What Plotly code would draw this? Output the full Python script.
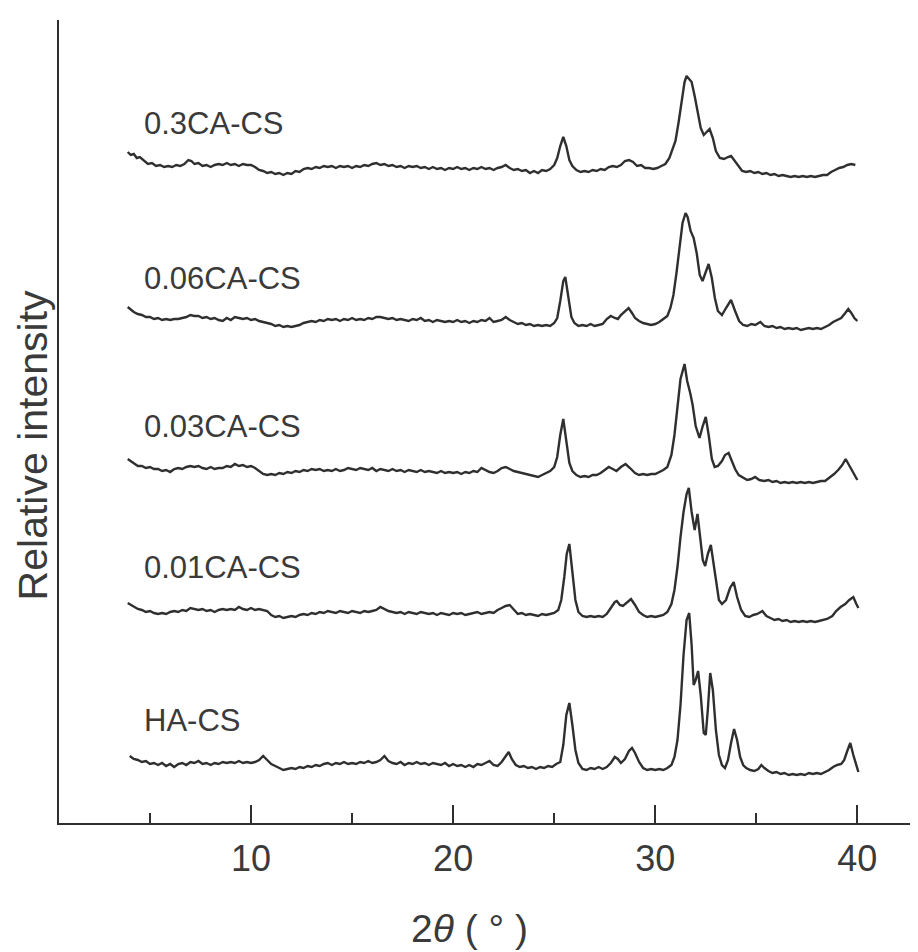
import plotly.graph_objects as go

# ---------------- data (2θ in degrees, intensity relative to each pattern's baseline) -------------
series_names = ["0.3CA-CS", "0.06CA-CS", "0.03CA-CS", "0.01CA-CS", "HA-CS"]
offsets = [655, 500, 352, 211, 58]  # vertical stacking offsets (relative intensity units)

pts_03 = [
    (3.9, 16), (4.05, 13), (4.2, 14), (4.35, 10), (4.5, 11), (4.7, 7), (4.9, 4), (5.1, 5), (5.3, 2), (5.5, 3),
    (5.7, 1), (5.9, 2), (6.1, 1), (6.3, 3), (6.5, 2), (6.7, 4), (6.9, 8), (7.05, 7), (7.2, 4), (7.4, 5),
    (7.6, 2), (7.8, 3), (8.0, 1), (8.2, 3), (8.4, 4), (8.6, 3), (8.8, 5), (9.0, 3), (9.2, 4), (9.4, 2),
    (9.6, 4), (9.8, 3), (10.0, 3), (10.2, 1), (10.4, -2), (10.6, -3), (10.8, -5), (11.0, -4), (11.2, -6), (11.4, -5),
    (11.6, -7), (11.8, -5), (12.0, -6), (12.2, -3), (12.4, -4), (12.6, -1), (12.8, 0), (13.0, -1), (13.2, 1), (13.4, 0),
    (13.6, 2), (13.8, 1), (14.0, 2), (14.2, 0), (14.4, 2), (14.6, 1), (14.8, 2), (15.0, 0), (15.2, 2), (15.4, 1),
    (15.6, 3), (15.8, 2), (16.0, 4), (16.2, 5), (16.4, 3), (16.6, 4), (16.8, 2), (17.0, 3), (17.2, 1), (17.4, 2),
    (17.6, 0), (17.8, 2), (18.0, 1), (18.2, 2), (18.4, 0), (18.6, 1), (18.8, -1), (19.0, 1), (19.2, -1), (19.4, 0),
    (19.6, -2), (19.8, 0), (20.0, -1), (20.2, 1), (20.4, -1), (20.6, 0), (20.8, -2), (21.0, 0), (21.2, -1), (21.4, 1),
    (21.6, -1), (21.8, 0), (22.0, -2), (22.2, 0), (22.4, 1), (22.6, 3), (22.8, 0), (23.0, -2), (23.2, -1), (23.4, -3),
    (23.6, -2), (23.8, -5), (24.0, -3), (24.2, -5), (24.4, -2), (24.6, -3), (24.8, -1), (25.0, 3), (25.15, 10), (25.3, 22),
    (25.45, 31), (25.6, 22), (25.75, 8), (25.9, 2), (26.1, -2), (26.3, -4), (26.5, -3), (26.7, -4), (26.9, -2), (27.1, -3),
    (27.3, -1), (27.5, -2), (27.7, 1), (27.9, 2), (28.1, 1), (28.3, 3), (28.5, 7), (28.7, 8), (28.9, 6), (29.1, 2),
    (29.3, 3), (29.5, 0), (29.7, 0), (29.9, -1), (30.1, 0), (30.3, 2), (30.5, 4), (30.7, 10), (30.85, 18), (31.0, 27),
    (31.15, 45), (31.3, 68), (31.45, 86), (31.55, 92), (31.7, 89), (31.8, 86), (31.95, 72), (32.1, 55), (32.25, 40), (32.4, 33),
    (32.55, 36), (32.69, 39), (32.85, 30), (33.0, 17), (33.2, 10), (33.4, 9), (33.6, 11), (33.75, 12), (33.9, 8), (34.1, 2),
    (34.3, -3), (34.5, -4), (34.7, -3), (34.9, -5), (35.1, -4), (35.3, -6), (35.5, -5), (35.7, -7), (35.9, -6), (36.1, -8),
    (36.3, -7), (36.5, -8), (36.7, -9), (36.9, -8), (37.1, -9), (37.3, -8), (37.5, -9), (37.7, -8), (37.9, -9), (38.1, -8),
    (38.3, -7), (38.5, -7), (38.7, -4), (38.9, -2), (39.1, 0), (39.3, 1), (39.5, 3), (39.7, 4), (39.9, 3),
]

pts_006 = [
    (3.9, 16), (4.05, 13), (4.2, 11), (4.4, 9), (4.6, 8), (4.8, 6), (5.0, 6), (5.2, 4), (5.4, 5), (5.6, 3),
    (5.8, 4), (6.0, 3), (6.2, 4), (6.4, 4), (6.6, 5), (6.8, 6), (7.0, 8), (7.2, 7), (7.4, 7), (7.6, 5),
    (7.8, 6), (8.0, 4), (8.2, 5), (8.4, 3), (8.6, 2), (8.8, 5), (9.0, 3), (9.2, 6), (9.4, 5), (9.6, 4),
    (9.8, 5), (10.0, 3), (10.2, 4), (10.4, 2), (10.6, 1), (10.8, 0), (11.0, -1), (11.2, -3), (11.4, -2), (11.6, -4),
    (11.8, -3), (12.0, -4), (12.2, -3), (12.4, -2), (12.6, 0), (12.8, 1), (13.0, 2), (13.2, 1), (13.4, 3), (13.6, 2),
    (13.8, 4), (14.0, 3), (14.2, 4), (14.4, 2), (14.6, 4), (14.8, 3), (15.0, 5), (15.2, 3), (15.4, 4), (15.6, 3),
    (15.8, 5), (16.0, 4), (16.2, 6), (16.4, 6), (16.6, 5), (16.8, 4), (17.0, 5), (17.2, 3), (17.4, 4), (17.6, 3),
    (17.8, 2), (18.0, 4), (18.2, 3), (18.4, 5), (18.6, 2), (18.8, 3), (19.0, 1), (19.2, 3), (19.4, 2), (19.6, 1),
    (19.8, 2), (20.0, 1), (20.2, 3), (20.4, 1), (20.6, 2), (20.8, 0), (21.0, 2), (21.2, 1), (21.4, 3), (21.6, 2),
    (21.8, 5), (22.0, 1), (22.2, 2), (22.4, 3), (22.6, 6), (22.8, 3), (23.0, 1), (23.2, -1), (23.4, 0), (23.6, -2),
    (23.8, -1), (24.0, -3), (24.2, -2), (24.4, -3), (24.6, -2), (24.8, -3), (25.0, 0), (25.15, 5), (25.3, 22), (25.45, 42),
    (25.55, 46), (25.7, 25), (25.85, 6), (26.0, 0), (26.2, -3), (26.4, -2), (26.6, -3), (26.8, -1), (27.0, -3), (27.2, -2),
    (27.4, -1), (27.6, 4), (27.8, 7), (28.0, 5), (28.15, 4), (28.3, 8), (28.5, 12), (28.68, 15), (28.85, 10), (29.0, 5),
    (29.2, 2), (29.4, 0), (29.6, -1), (29.8, -2), (30.0, -1), (30.2, 1), (30.4, 4), (30.6, 7), (30.75, 15), (30.9, 28),
    (31.05, 50), (31.2, 78), (31.35, 100), (31.5, 110), (31.6, 106), (31.75, 92), (31.9, 85), (32.05, 70), (32.2, 48), (32.34, 42),
    (32.5, 52), (32.64, 59), (32.8, 45), (32.95, 25), (33.1, 12), (33.3, 8), (33.5, 15), (33.75, 23), (33.95, 12), (34.15, 2),
    (34.35, -2), (34.55, -3), (34.75, -1), (34.95, -2), (35.2, 1), (35.4, -3), (35.6, -4), (35.8, -3), (36.0, -5), (36.2, -4),
    (36.4, -6), (36.6, -5), (36.8, -6), (37.0, -5), (37.2, -7), (37.4, -6), (37.6, -5), (37.8, -6), (38.0, -5), (38.2, -6),
    (38.4, -4), (38.6, -2), (38.8, 1), (39.0, 3), (39.2, 5), (39.4, 10), (39.55, 14), (39.7, 10), (39.85, 5), (40.0, 2),
]

pts_003 = [
    (3.9, 12), (4.05, 10), (4.2, 8), (4.4, 5), (4.6, 5), (4.8, 3), (5.0, 4), (5.2, 2), (5.4, 2), (5.6, 0),
    (5.8, 1), (6.0, -1), (6.2, 2), (6.4, 3), (6.6, 2), (6.8, 4), (7.0, 5), (7.2, 4), (7.4, 5), (7.6, 3),
    (7.8, 2), (8.0, 4), (8.2, 2), (8.4, 3), (8.6, 3), (8.8, 5), (9.0, 4), (9.2, 7), (9.4, 5), (9.6, 6),
    (9.8, 4), (10.0, 5), (10.2, 3), (10.4, 0), (10.6, -3), (10.8, -4), (11.0, -3), (11.2, -4), (11.4, -2), (11.6, -3),
    (11.8, -1), (12.0, -2), (12.2, 0), (12.4, -1), (12.6, 1), (12.8, 0), (13.0, 2), (13.2, 1), (13.4, 2), (13.6, 0),
    (13.8, 1), (14.0, 0), (14.2, 2), (14.4, 0), (14.6, 1), (14.8, 3), (15.0, 2), (15.2, 1), (15.4, 3), (15.6, 2),
    (15.8, 1), (16.0, 3), (16.2, 0), (16.4, 2), (16.6, 1), (16.8, 0), (17.0, 2), (17.2, 0), (17.4, 1), (17.6, -1),
    (17.8, 1), (18.0, 0), (18.2, -1), (18.4, 1), (18.6, -1), (18.8, 0), (19.0, -1), (19.2, -2), (19.4, 0), (19.6, -2),
    (19.8, -1), (20.0, -2), (20.2, -1), (20.4, -3), (20.6, -1), (20.8, -2), (21.0, 0), (21.2, -1), (21.4, 3), (21.6, 1),
    (21.8, -1), (22.0, -2), (22.2, 0), (22.4, 3), (22.6, 4), (22.8, 2), (23.0, 0), (23.2, -1), (23.4, -2), (23.6, -3),
    (23.8, -4), (24.0, -5), (24.2, -6), (24.4, -4), (24.6, -2), (24.8, 0), (25.0, 4), (25.15, 14), (25.3, 36), (25.45, 52),
    (25.6, 30), (25.75, 8), (25.9, 0), (26.1, -4), (26.3, -6), (26.5, -5), (26.7, -6), (26.9, -4), (27.1, -4), (27.3, -2),
    (27.5, 1), (27.7, 4), (27.9, 2), (28.08, 0), (28.3, 4), (28.53, 7), (28.75, 3), (29.0, -2), (29.2, -4), (29.4, -3),
    (29.6, -4), (29.8, -3), (30.0, -3), (30.2, -1), (30.4, 1), (30.6, 4), (30.8, 16), (30.95, 36), (31.1, 65), (31.25, 92),
    (31.45, 107), (31.58, 90), (31.73, 78), (31.85, 66), (32.0, 45), (32.19, 33), (32.35, 45), (32.5, 54), (32.65, 35), (32.8, 12),
    (32.94, 4), (33.1, 5), (33.3, 10), (33.45, 16), (33.63, 18), (33.8, 10), (33.95, 2), (34.13, -4), (34.3, -6), (34.55, -9),
    (34.75, -8), (34.94, -6), (35.15, -9), (35.4, -10), (35.6, -9), (35.8, -11), (36.0, -10), (36.2, -12), (36.4, -11), (36.6, -12),
    (36.8, -11), (37.0, -12), (37.2, -11), (37.4, -12), (37.6, -11), (37.8, -12), (38.0, -11), (38.2, -10), (38.4, -10), (38.6, -7),
    (38.85, -3), (39.05, 1), (39.25, 6), (39.42, 12), (39.6, 5), (39.8, -2), (40.0, -9),
]

pts_001 = [
    (3.9, 9), (4.05, 7), (4.2, 5), (4.4, 3), (4.6, 2), (4.8, 0), (5.0, 1), (5.2, -1), (5.4, -2), (5.6, -1),
    (5.8, -2), (6.0, 0), (6.2, 1), (6.4, 0), (6.6, 2), (6.8, 1), (7.0, 4), (7.2, 3), (7.4, 2), (7.6, 3),
    (7.8, 1), (8.0, 2), (8.2, 0), (8.4, 2), (8.6, 3), (8.8, 2), (9.0, 3), (9.2, 2), (9.4, 5), (9.6, 3),
    (9.8, 2), (10.0, 4), (10.2, 2), (10.4, 3), (10.6, 2), (10.8, 1), (11.0, -3), (11.2, -5), (11.4, -4), (11.6, -6),
    (11.8, -5), (12.0, -4), (12.2, -5), (12.4, -3), (12.6, -2), (12.8, -3), (13.0, -1), (13.2, -2), (13.4, 0), (13.6, -1),
    (13.8, 1), (14.0, 0), (14.2, -1), (14.4, 1), (14.6, 0), (14.8, -1), (15.0, 1), (15.2, 0), (15.4, -1), (15.6, 1),
    (15.8, 0), (16.0, 1), (16.2, 2), (16.4, 5), (16.6, 3), (16.8, 1), (17.0, 0), (17.2, -1), (17.4, 0), (17.6, -2),
    (17.8, 0), (18.0, -1), (18.2, -2), (18.4, 0), (18.6, -1), (18.8, -2), (19.0, -1), (19.2, -3), (19.4, -1), (19.6, -2),
    (19.8, -3), (20.0, -1), (20.2, -2), (20.4, -1), (20.6, -3), (20.8, -2), (21.0, -1), (21.2, 0), (21.4, -2), (21.6, -1),
    (21.8, 0), (22.0, -1), (22.2, 2), (22.4, 4), (22.6, 6), (22.8, 7), (23.0, 2), (23.2, -2), (23.4, -1), (23.6, -3),
    (23.8, -2), (24.0, -3), (24.2, -4), (24.4, -2), (24.6, -3), (24.8, -2), (25.0, -1), (25.2, 2), (25.35, 12), (25.5, 35),
    (25.62, 58), (25.75, 68), (25.9, 40), (26.05, 12), (26.2, 0), (26.4, -4), (26.6, -5), (26.8, -4), (27.0, -5), (27.2, -4),
    (27.4, -5), (27.6, -2), (27.8, 4), (28.0, 10), (28.1, 11), (28.25, 7), (28.4, 6), (28.6, 10), (28.8, 13), (29.0, 7),
    (29.2, 0), (29.4, -3), (29.6, -5), (29.8, -4), (30.0, -5), (30.2, -4), (30.4, -3), (30.6, 0), (30.8, 8), (30.95, 22),
    (31.1, 45), (31.25, 75), (31.4, 100), (31.55, 118), (31.66, 124), (31.8, 100), (31.95, 82), (32.09, 98), (32.2, 80), (32.35, 52),
    (32.47, 46), (32.6, 58), (32.75, 67), (32.9, 45), (33.05, 28), (33.15, 12), (33.3, 8), (33.5, 12), (33.7, 24), (33.88, 30),
    (34.05, 15), (34.25, 2), (34.45, -4), (34.65, -5), (34.85, -3), (35.05, -2), (35.3, 1), (35.5, -4), (35.7, -6), (35.9, -8),
    (36.1, -7), (36.3, -9), (36.5, -8), (36.7, -10), (36.9, -9), (37.1, -10), (37.3, -9), (37.5, -10), (37.7, -9), (37.9, -10),
    (38.1, -9), (38.3, -8), (38.5, -7), (38.76, -4), (38.95, 1), (39.17, 5), (39.4, 8), (39.6, 12), (39.8, 15), (39.95, 8),
    (40.05, 4),
]

pts_ha = [
    (4.0, 9), (4.2, 6), (4.4, 5), (4.6, 3), (4.8, 4), (5.0, 1), (5.2, 2), (5.4, 0), (5.6, 2), (5.8, -1),
    (6.0, 1), (6.2, -2), (6.4, 1), (6.6, 2), (6.8, 0), (7.0, 3), (7.2, 2), (7.4, 4), (7.6, 1), (7.8, 2),
    (8.0, 0), (8.2, 2), (8.4, 1), (8.6, 3), (8.8, 2), (9.0, 3), (9.2, 2), (9.4, 4), (9.6, 2), (9.8, 3),
    (10.0, 2), (10.2, 3), (10.4, 5), (10.6, 9), (10.8, 5), (11.0, 1), (11.2, -1), (11.4, -3), (11.6, -5), (11.8, -4),
    (12.0, -3), (12.2, -4), (12.4, -2), (12.6, -3), (12.8, -1), (13.0, -2), (13.2, 0), (13.4, -1), (13.6, 1), (13.8, 2),
    (14.0, 0), (14.2, 2), (14.4, 1), (14.6, 3), (14.8, 1), (15.0, 2), (15.2, 1), (15.4, 3), (15.6, 2), (15.8, 4),
    (16.0, 2), (16.2, 3), (16.4, 5), (16.6, 9), (16.8, 4), (17.0, 2), (17.2, 1), (17.4, 3), (17.6, 0), (17.8, 2),
    (18.0, 1), (18.2, 3), (18.4, 1), (18.6, 2), (18.8, 0), (19.0, 2), (19.2, 1), (19.4, 0), (19.6, 2), (19.8, -1),
    (20.0, 1), (20.2, -1), (20.4, 0), (20.6, -2), (20.8, 0), (21.0, -2), (21.2, 1), (21.4, 0), (21.6, 2), (21.8, 4),
    (22.0, 0), (22.2, -1), (22.4, 3), (22.6, 9), (22.75, 13), (22.9, 6), (23.1, 0), (23.3, -2), (23.5, -1), (23.7, -3),
    (23.9, -2), (24.1, -4), (24.3, -2), (24.5, -3), (24.7, -1), (24.9, -2), (25.1, 1), (25.3, 3), (25.45, 20), (25.6, 50),
    (25.75, 62), (25.9, 40), (26.05, 15), (26.2, 2), (26.4, -4), (26.6, -5), (26.8, -3), (27.0, -4), (27.2, -2), (27.4, -4),
    (27.6, -2), (27.8, 2), (28.0, 8), (28.15, 6), (28.3, 2), (28.5, 6), (28.7, 14), (28.85, 17), (29.0, 12), (29.2, 3),
    (29.4, -3), (29.6, -5), (29.8, -4), (30.0, -5), (30.2, -4), (30.4, -5), (30.6, -3), (30.8, 0), (30.95, 8), (31.1, 25),
    (31.25, 60), (31.4, 110), (31.55, 145), (31.68, 152), (31.8, 120), (31.9, 80), (32.0, 85), (32.12, 94), (32.25, 70), (32.4, 32),
    (32.5, 30), (32.6, 55), (32.72, 92), (32.85, 75), (33.0, 35), (33.15, 10), (33.3, 0), (33.45, -3), (33.6, 5), (33.75, 22),
    (33.9, 36), (34.05, 25), (34.2, 8), (34.35, 0), (34.5, -3), (34.7, -5), (34.9, -6), (35.1, -4), (35.25, 0), (35.4, -3),
    (35.6, -6), (35.8, -8), (36.0, -7), (36.2, -9), (36.4, -8), (36.6, -10), (36.8, -9), (37.0, -10), (37.2, -9), (37.4, -10),
    (37.6, -8), (37.8, -9), (38.0, -8), (38.2, -9), (38.4, -7), (38.6, -5), (38.8, -2), (39.0, 0), (39.2, 1), (39.35, 5),
    (39.5, 14), (39.65, 22), (39.8, 10), (39.95, -2), (40.05, -7),
]

major_ticks = [10, 20, 30, 40]
minor_ticks = [5, 15, 25, 35]
x_title = "2<i>θ</i> ( ° )"
y_title = "Relative intensity"

# ---------------- figure ----------------
FONT = "Liberation Sans, Arial, Helvetica, sans-serif"
INK = "#2f2f2f"
TXT = "#3a3a3a"

all_pts = [pts_03, pts_006, pts_003, pts_001, pts_ha]

fig = go.Figure()
for name, off, pts in zip(series_names, offsets, all_pts):
    xs = [p[0] for p in pts]
    ys = [p[1] + off for p in pts]
    fig.add_trace(go.Scatter(x=xs, y=ys, mode="lines", name=name,
                             line=dict(color=INK, width=2.4), showlegend=False))
    fig.add_annotation(x=4.6, y=off + 45, xref="x", yref="y", text=name,
                       showarrow=False, xanchor="left", yanchor="middle",
                       font=dict(family=FONT, size=31, color=TXT))

fig.add_annotation(x=0.478, y=-0.131, xref="paper", yref="paper", text=x_title,
                   showarrow=False, xanchor="center", yanchor="middle",
                   font=dict(family=FONT, size=39, color=TXT))
fig.add_annotation(x=-0.0305, y=0.47, xref="paper", yref="paper", text=y_title,
                   showarrow=False, xanchor="center", yanchor="middle", textangle=-90,
                   borderpad=0,
                   font=dict(family=FONT, size=41, color=TXT))

# the page body adds an 8px margin, so the figure is sized/margined to compensate
fig.update_layout(
    width=910, height=944,
    margin=dict(l=51, r=0, t=12, b=129),
    paper_bgcolor="white", plot_bgcolor="white",
    font=dict(family=FONT, color=TXT),
)
fig.update_xaxes(
    range=[0.5, 43.0], showgrid=False, zeroline=False,
    showline=True, linecolor=INK, linewidth=2,
    tickmode="array", tickvals=major_ticks, ticktext=[str(t) for t in major_ticks],
    ticks="inside", ticklen=18, tickwidth=2, tickcolor=INK,
    tickfont=dict(family=FONT, size=36, color=TXT),
    ticklabelstandoff=3,
    minor=dict(tickmode="array", tickvals=minor_ticks, ticks="inside", ticklen=10,
               tickwidth=2, tickcolor=INK, showgrid=False),
)
fig.update_yaxes(
    range=[0, 803], showgrid=False, zeroline=False,
    showline=True, linecolor=INK, linewidth=2,
    showticklabels=False, ticks="",
)

fig.write_html("out.html")
